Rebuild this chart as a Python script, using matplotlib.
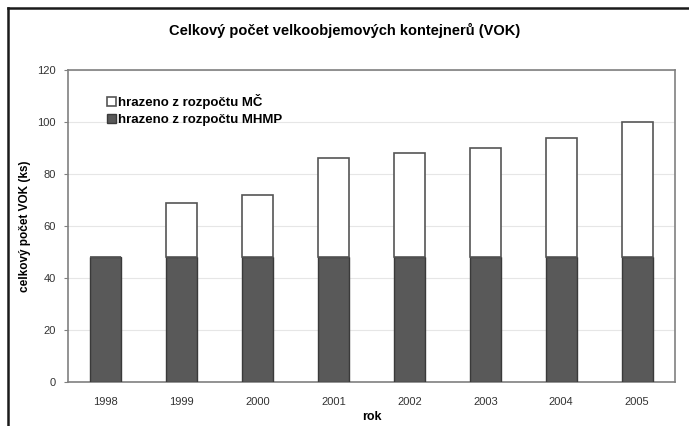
import matplotlib.pyplot as plt
from matplotlib.lines import Line2D
import numpy as np

plt.rcParams['font.family'] = ['Liberation Sans', 'DejaVu Sans']

years = ['1998', '1999', '2000', '2001', '2002', '2003', '2004', '2005']
mhmp = [48, 48, 48, 48, 48, 48, 48, 48]
totals = [48, 69, 72, 86, 88, 90, 94, 100]
mc = [t - m for t, m in zip(totals, mhmp)]

fig = plt.figure(figsize=(6.89, 4.26), dpi=100)
ax = fig.add_axes([0.0987, 0.1033, 0.881, 0.7324])

x = np.arange(len(years))
w = 0.41
ax.bar(x, mhmp, w, color='#595959', edgecolor='#3a3a3a', linewidth=1.0,
       label='hrazeno z rozpočtu MHMP', zorder=3)
ax.bar(x, mc, w, bottom=mhmp, color='white', edgecolor='#555555', linewidth=1.2,
       label='hrazeno z rozpočtu MČ', zorder=3)

ax.set_xlim(-0.5, len(years) - 0.5)
ax.set_ylim(0, 120)
ax.set_yticks(range(0, 121, 20))
ax.set_xticks(x)
ax.set_xticklabels(years)
ax.yaxis.grid(True, color='#e6e6e6', linewidth=0.8, zorder=0)
for s in ax.spines.values():
    s.set_color('#808080')
    s.set_linewidth(1.2)
ax.tick_params(axis='x', length=0, labelsize=8, pad=11, colors='#333333')
ax.tick_params(axis='y', length=3, color='#808080', labelsize=8, pad=6, labelcolor='#333333')

ax.set_xlabel('rok', fontsize=9, fontweight='bold', labelpad=3)
ax.set_ylabel('celkový počet VOK (ks)', fontsize=8.5, fontweight='bold', labelpad=4)

handles, labels = ax.get_legend_handles_labels()
leg = ax.legend(handles[::-1], labels[::-1], loc='upper left', bbox_to_anchor=(0.055, 0.94),
                frameon=False, fontsize=9.5, handlelength=0.7, handleheight=0.7,
                handletextpad=0.15, labelspacing=0.35, borderaxespad=0)
for t in leg.get_texts():
    t.set_fontweight('bold')

fig.text(0.5, 1 - 30 / 426, 'Celkový počet velkoobjemových kontejnerů (VOK)',
         ha='center', va='center', fontsize=10.5, fontweight='bold')

# outer frame (left and top edges visible)
fx = 8 / 689
fy = 1 - 8 / 426
fig.add_artist(Line2D([fx, fx], [0, fy], transform=fig.transFigure, color='#1a1a1a', linewidth=1.8))
fig.add_artist(Line2D([fx, 1], [fy, fy], transform=fig.transFigure, color='#1a1a1a', linewidth=1.8))

fig.savefig('out.png', dpi=100)
